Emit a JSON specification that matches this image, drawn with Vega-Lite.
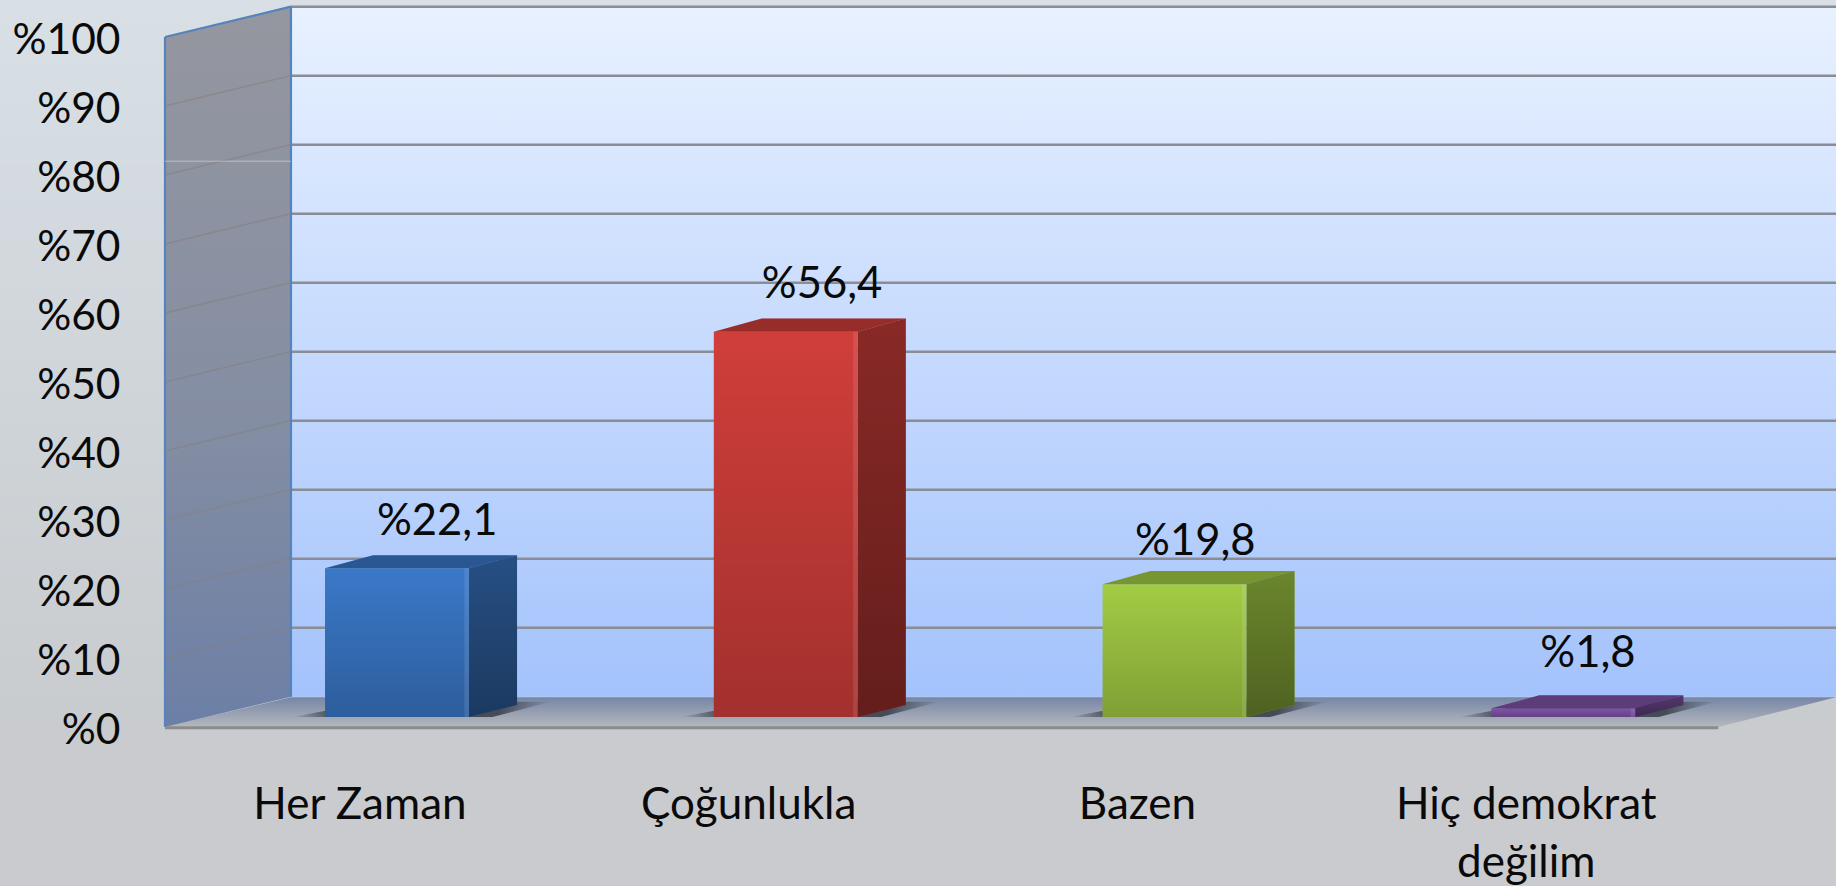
{
"$schema":"https://vega.github.io/schema/vega-lite/v6.json",
"width":1671,"height":690,
"autosize":"none",
"padding":{"left":165,"right":0,"top":37,"bottom":159},
"background":"#c9ccd0",
"config":{"view":{"stroke":null},"font":"Lato","text":{"font":"Lato"}},
"datasets":{
"bars":[
{"category":"Her Zaman","value":22.1,"order":0},
{"category":"Çoğunlukla","value":56.4,"order":1},
{"category":"Bazen","value":19.8,"order":2},
{"category":"Hiç demokrat değilim","value":1.8,"order":3}],
"levels":[{"level":10},{"level":20},{"level":30},{"level":40},{"level":50},{"level":60},{"level":70},{"level":80},{"level":90},{"level":100}]
},
"data":{"name":"bars"},
"transform":[
{"calculate":"datum.order+0.4116","as":"x0"},
{"calculate":"datum.x0+0.3704","as":"x1"},
{"calculate":"1.45","as":"yb"},
{"calculate":"datum.value+0.9","as":"yt"}
],
"encoding":{
"x":{"field":"x","type":"quantitative","scale":{"domain":[0,4.298],"nice":false,"zero":false},
"axis":{"title":null,"values":[0.5,1.5,2.5,3.5],"grid":false,"domain":false,"ticks":false,"zindex":1,"labelFont":"Lato","labelFontSize":44,"labelColor":"#0a0a0a","labelPadding":56,"labelLineHeight":58,"labelBaseline":"top","labelAlign":"center","labelFlush":false,"labelOverlap":false,"labelLimit":0,
"labelExpr":"datum.value==0.5?'Her Zaman':datum.value==1.5?'Çoğunlukla':datum.value==2.5?'Bazen':['Hiç demokrat','değilim']"}},
"y":{"field":"y","type":"quantitative","stack":null,"scale":{"domain":[0,100],"nice":false,"zero":false},
"axis":{"title":null,"values":[0,10,20,30,40,50,60,70,80,90,100],"grid":false,"domain":false,"ticks":false,"zindex":1,"labelFont":"Lato","labelFontSize":42.5,"labelColor":"#0a0a0a","labelPadding":45,"labelOffset":3,"labelOverlap":false,"labelFlush":false,"labelLimit":0,"labelExpr":"'%'+datum.value"}}
},
"layer":[
{"data":{"values":[{"x":-0.4244,"x2":4.298,"y":105.4,"y2":-23.1}]},
"mark":{"type":"rect","color":{"x1":0,"y1":0,"x2":0,"y2":1,"gradient":"linear","stops":[{"offset":0,"color":"#d8e0e6"},{"offset":0.5,"color":"#ced3d7"},{"offset":0.8,"color":"#c9cccf"},{"offset":1,"color":"#c9cbce"}]}},
"encoding":{"x2":{"field":"x2"},"y2":{"field":"y2"}}},

{"data":{"values":[{"x":0.324,"x2":4.298,"y":104.4,"y2":4.4}]},
"mark":{"type":"rect","color":{"x1":0,"y1":0,"x2":0,"y2":1,"gradient":"linear","stops":[{"offset":0,"color":"#e8f1ff"},{"offset":1,"color":"#a4c3fc"}]}},
"encoding":{"x2":{"field":"x2"},"y2":{"field":"y2"}}},

{"data":{"values":[{"y":0,"x":0,"x2":3.995},{"y":4.3,"x":0.324,"x2":4.298}]},
"mark":{"type":"area","orient":"horizontal","color":{"x1":0,"y1":0,"x2":0,"y2":1,"gradient":"linear","stops":[{"offset":0,"color":"#7686a6"},{"offset":1,"color":"#b6b8bd"}]}},
"encoding":{"x2":{"field":"x2"}}},

{"data":{"values":[{"x":0,"y":0,"y2":100},{"x":0.324,"y":4.4,"y2":104.4}]},
"mark":{"type":"area","orient":"vertical","color":{"x1":0,"y1":0,"x2":0,"y2":1,"gradient":"linear","stops":[{"offset":0,"color":"#95979f"},{"offset":0.6,"color":"#838da3"},{"offset":1,"color":"#6c7fa6"}]}},
"encoding":{"y2":{"field":"y2"}}},

{"data":{"name":"levels"},
"transform":[{"calculate":"0.324","as":"x"},{"calculate":"4.298","as":"x2"},{"calculate":"datum.level+4.4","as":"y"},{"calculate":"datum.y","as":"y2"}],
"mark":{"type":"rule","color":"#8b8d96","strokeWidth":2.5},
"encoding":{"x2":{"field":"x2"},"y2":{"field":"y2"}}},
{"data":{"name":"levels"},
"transform":[{"filter":"datum.level<100"},{"calculate":"0","as":"x"},{"calculate":"0.324","as":"x2"},{"calculate":"datum.level","as":"y"},{"calculate":"datum.level+4.4","as":"y2"}],
"mark":{"type":"rule","color":"#85807f","strokeWidth":1.5,"opacity":0.6},
"encoding":{"x2":{"field":"x2"},"y2":{"field":"y2"}}},

{"data":{"values":[{"x":0,"x2":0,"y":0,"y2":100},{"x":0.324,"x2":0.324,"y":4.4,"y2":104.4},{"x":0,"x2":0.324,"y":100,"y2":104.4}]},
"mark":{"type":"rule","color":"#5583bb","strokeWidth":2.2},
"encoding":{"x2":{"field":"x2"},"y2":{"field":"y2"}}},
{"data":{"values":[{"x":0,"x2":3.995,"y":-0.1,"y2":-0.1}]},
"mark":{"type":"rule","color":"#8c8c8c","strokeWidth":3},
"encoding":{"x2":{"field":"x2"},"y2":{"field":"y2"}}},
{"data":{"values":[{"x":0,"x2":0.324,"y":82,"y2":82}]},
"mark":{"type":"rule","color":"#ffffff","strokeWidth":1,"opacity":0.4},
"encoding":{"x2":{"field":"x2"},"y2":{"field":"y2"}}},
{"data":{"values":[{"x":-0.4244,"x2":0,"y":82,"y2":82}]},
"mark":{"type":"rule","color":"#ffffff","strokeWidth":1,"opacity":0.12},
"encoding":{"x2":{"field":"x2"},"y2":{"field":"y2"}}},

{"transform":[{"calculate":"[0,1]","as":"t"},{"flatten":["t"]},{"calculate":"datum.yb+datum.t*2.2","as":"y"},{"calculate":"datum.x0-0.085+datum.t*0.21","as":"x"},{"calculate":"datum.x1+0.06+datum.t*0.15","as":"x2"}],
"mark":{"type":"area","orient":"horizontal","color":{"x1":0,"y1":0,"x2":1,"y2":0,"gradient":"linear","stops":[{"offset":0,"color":"rgba(48,54,63,0)"},{"offset":0.16,"color":"rgba(48,54,63,0.8)"},{"offset":0.8,"color":"rgba(48,54,63,0.8)"},{"offset":1,"color":"rgba(48,54,63,0)"}]}},
"encoding":{"x2":{"field":"x2"},"detail":{"field":"category"}}},

{"transform":[{"calculate":"datum.x0","as":"x"},{"calculate":"datum.x1","as":"x2"},{"calculate":"datum.yt","as":"y"},{"calculate":"datum.yb","as":"y2"}],
"mark":{"type":"rect"},
"encoding":{"x2":{"field":"x2"},"y2":{"field":"y2"},
"color":{"field":"category","type":"nominal","legend":null,"scale":{"domain":["Her Zaman","Çoğunlukla","Bazen","Hiç demokrat değilim"],"range":["#3a78c8","#d03e3a","#a3cc44","#7f54a8"]}}}},
{"transform":[{"calculate":"[0,1]","as":"t"},{"flatten":["t"]},{"calculate":"datum.x1+datum.t*0.1235","as":"x"},{"calculate":"datum.yb+datum.t*1.75","as":"y"},{"calculate":"datum.yt+datum.t*1.9","as":"y2"}],
"mark":{"type":"area","orient":"vertical"},
"encoding":{"y2":{"field":"y2"},
"color":{"field":"category","type":"nominal","legend":null}}},
{"transform":[{"calculate":"[0,1]","as":"t"},{"flatten":["t"]},{"calculate":"datum.yt+datum.t*1.9","as":"y"},{"calculate":"datum.x0+datum.t*0.1235","as":"x"},{"calculate":"datum.x1+datum.t*0.1235","as":"x2"}],
"mark":{"type":"area","orient":"horizontal"},
"encoding":{"x2":{"field":"x2"},
"color":{"field":"category","type":"nominal","legend":null}}},

{"transform":[{"calculate":"datum.x0","as":"x"},{"calculate":"datum.x1","as":"x2"},{"calculate":"datum.yt","as":"y"},{"calculate":"datum.yb","as":"y2"}],
"mark":{"type":"rect","color":{"x1":0,"y1":0,"x2":0,"y2":1,"gradient":"linear","stops":[{"offset":0,"color":"rgba(0,0,0,0)"},{"offset":1,"color":"rgba(0,0,0,0.22)"}]}},
"encoding":{"x2":{"field":"x2"},"y2":{"field":"y2"}}},
{"transform":[{"calculate":"datum.x1-0.012","as":"x"},{"calculate":"datum.x1","as":"x2"},{"calculate":"datum.yt","as":"y"},{"calculate":"datum.yb","as":"y2"}],
"mark":{"type":"rect","color":"#ffffff","opacity":0.1},
"encoding":{"x2":{"field":"x2"},"y2":{"field":"y2"}}},
{"transform":[{"calculate":"[0,1]","as":"t"},{"flatten":["t"]},{"calculate":"datum.x1+datum.t*0.1235","as":"x"},{"calculate":"datum.yb+datum.t*1.75","as":"y"},{"calculate":"datum.yt+datum.t*1.9","as":"y2"}],
"mark":{"type":"area","orient":"vertical","color":{"x1":0,"y1":0,"x2":0,"y2":1,"gradient":"linear","stops":[{"offset":0,"color":"rgba(0,0,0,0.34)"},{"offset":1,"color":"rgba(0,0,0,0.52)"}]}},
"encoding":{"y2":{"field":"y2"},"detail":{"field":"category"}}},
{"transform":[{"calculate":"[0,1]","as":"t"},{"flatten":["t"]},{"calculate":"datum.yt+datum.t*1.9","as":"y"},{"calculate":"datum.x0+datum.t*0.1235","as":"x"},{"calculate":"datum.x1+datum.t*0.1235","as":"x2"}],
"mark":{"type":"area","orient":"horizontal","color":"#000000","opacity":0.27},
"encoding":{"x2":{"field":"x2"},"detail":{"field":"category"}}},

{"transform":[{"calculate":"[0.70,1.69,2.65,3.66][datum.order]","as":"x"},{"calculate":"datum.value+[7.6,7.7,7.0,8.8][datum.order]","as":"y"},{"calculate":"'%'+replace(format(datum.value,'.1f'),'.',',')","as":"label"}],
"mark":{"type":"text","font":"Lato","fontSize":43.5,"color":"#0a0a0a","align":"center","baseline":"middle"},
"encoding":{"text":{"field":"label","type":"nominal"}}}
]
}
